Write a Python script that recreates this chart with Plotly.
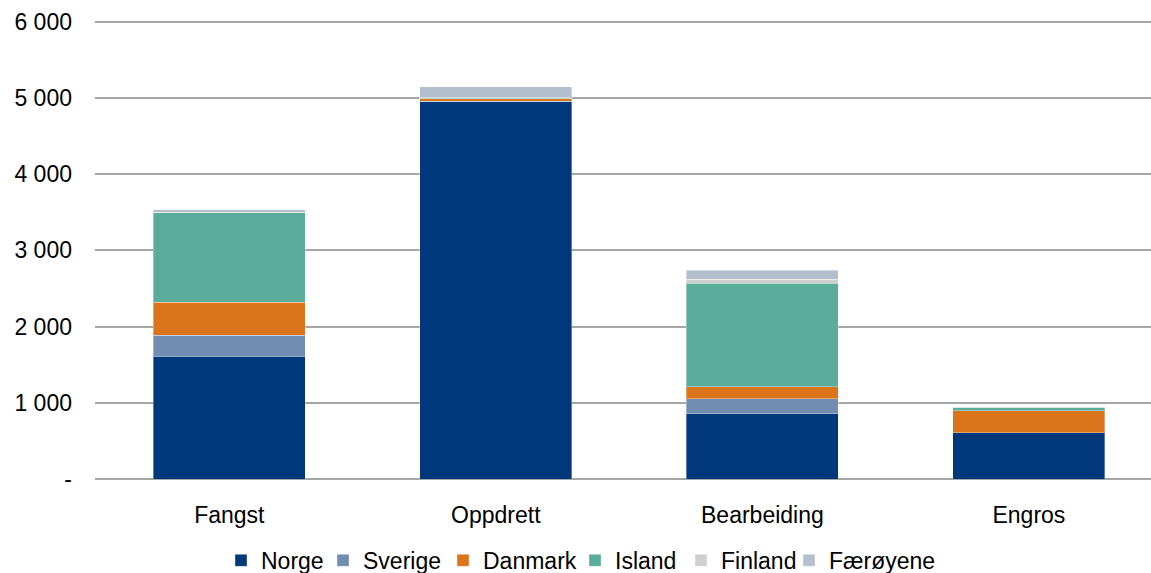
import plotly.graph_objects as go

# Value chain segments
categories = ["Fangst", "Oppdrett", "Bearbeiding", "Engros"]

# Values per country, stacked per segment
norge = [1612, 4950, 854, 604]
sverige = [272, 5, 197, 3]
danmark = [434, 38, 158, 290]
island = [1177, 5, 1359, 44]
finland = [8, 3, 56, 1]
faeroyene = [28, 146, 118, 2]

series = [
    ("Norge", norge, "#00387B"),
    ("Sverige", sverige, "#728DB2"),
    ("Danmark", danmark, "#DB741B"),
    ("Island", island, "#5AAD9A"),
    ("Finland", finland, "#CFCFCF"),
    ("Færøyene", faeroyene, "#B3BFCD"),
]

y_tickvals = [0, 1000, 2000, 3000, 4000, 5000, 6000]
y_ticktext = ["-", "1 000", "2 000", "3 000", "4 000", "5 000", "6 000"]

font_family = "Liberation Sans, Arial, sans-serif"

# Plot area geometry (pixels)
W, H = 1151, 573
M_L, M_R, M_T, M_B = 95, 0, 18.2, 94.3
plot_w = W - M_L - M_R
plot_h = H - M_T - M_B

# Left edge (pixels) of each legend entry's text, one small legend per country
legend_text_px = [261, 363, 483, 615, 721, 829]

fig = go.Figure()
legend_layouts = {}
for i, (name, vals, color) in enumerate(series):
    key = "legend" if i == 0 else f"legend{i + 1}"
    fig.add_trace(go.Bar(
        name=name,
        x=categories,
        y=vals,
        legend=key,
        marker=dict(color=color, line=dict(color="rgba(255,255,255,0.35)", width=1)),
    ))
    legend_layouts[key] = dict(
        orientation="h",
        x=(legend_text_px[i] - 40 - M_L) / plot_w,
        xanchor="left",
        y=-0.1765,
        yanchor="middle",
        font=dict(size=23, color="#000000"),
        itemwidth=30,
        bgcolor="rgba(0,0,0,0)",
    )

fig.update_layout(
    barmode="stack",
    bargap=0.43,
    width=W,
    height=H,
    margin=dict(l=M_L, r=M_R, t=M_T, b=M_B, autoexpand=False),
    plot_bgcolor="white",
    paper_bgcolor="white",
    font=dict(family=font_family, size=23, color="#000000"),
    showlegend=True,
    xaxis=dict(
        range=[-0.504, 3.458],
        showgrid=False,
        showline=False,
        ticks="",
        ticklabelstandoff=20,
        tickfont=dict(size=23),
    ),
    yaxis=dict(
        range=[0, 6050],
        tickvals=y_tickvals,
        ticktext=y_ticktext,
        showgrid=True,
        gridcolor="#A6A6A6",
        gridwidth=1.5,
        zeroline=True,
        zerolinecolor="#A6A6A6",
        zerolinewidth=1.5,
        ticks="",
        ticklabelstandoff=22,
        tickfont=dict(size=23),
    ),
    **legend_layouts,
)

fig.write_html("out.html")
